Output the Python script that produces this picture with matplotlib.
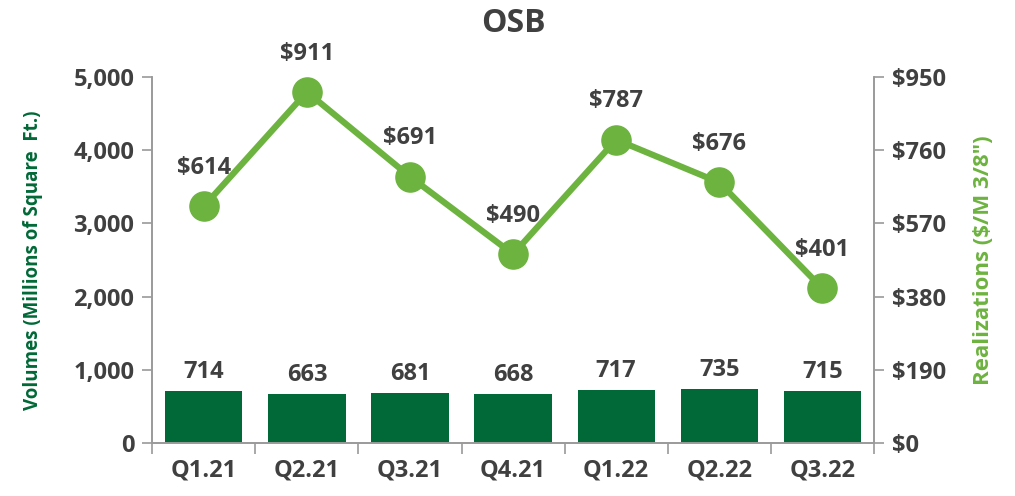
import matplotlib
matplotlib.use("Agg")
import matplotlib.pyplot as plt
from matplotlib.ticker import FuncFormatter

categories = ["Q1.21", "Q2.21", "Q3.21", "Q4.21", "Q1.22", "Q2.22", "Q3.22"]
volumes = [714, 663, 681, 668, 717, 735, 715]
realizations = [614, 911, 691, 490, 787, 676, 401]
left_ticks = [0, 1000, 2000, 3000, 4000, 5000]
right_ticks = [0, 190, 380, 570, 760, 950]

DARK = "#006937"
LIGHT = "#6DB33F"
TXT = "#404040"
AX = "#9A9A9A"
FS = 17

plt.rcParams['font.family'] = ['Open Sans', 'DejaVu Sans']
plt.rcParams['font.weight'] = 'bold'

fig = plt.figure(figsize=(10.15, 4.96), dpi=100)
ax = fig.add_axes([0.150, 0.107, 0.711, 0.738])
ax2 = ax.twinx()

x = list(range(len(categories)))
ax.bar(x, volumes, width=0.75, color=DARK, zorder=2)
for xi, v in zip(x, volumes):
    ax.annotate(f"{v:,}", (xi, v), xytext=(0, 5), textcoords="offset points",
                ha="center", va="bottom", fontsize=FS, fontweight="bold", color=TXT)

ax.set_xlim(-0.5, len(categories) - 0.5)
ax.set_ylim(0, 5000)
ax.set_yticks(left_ticks)
ax.yaxis.set_major_formatter(FuncFormatter(lambda v, p: f"{int(v):,}"))
ax.set_xticks(x)
ax.set_xticklabels(categories)
ax.set_xticks([i - 0.5 for i in range(len(categories) + 1)], minor=True)
ax.tick_params(axis="x", which="major", length=0, pad=11, labelsize=FS, labelcolor=TXT)
ax.tick_params(axis="x", which="minor", length=8, color=AX, width=1.2)
ax.tick_params(axis="y", length=7, color=AX, width=1.2, labelsize=FS, labelcolor=TXT, pad=6)
for lbl in ax.get_xticklabels() + ax.get_yticklabels():
    lbl.set_fontweight("bold")

ax2.plot(x, realizations, color=LIGHT, lw=4.5, marker="o", markersize=21, zorder=3)
for xi, v in zip(x, realizations):
    ax2.annotate(f"${v:,}", (xi, v), xytext=(0, 19), textcoords="offset points",
                 ha="center", va="bottom", fontsize=FS, fontweight="bold", color=TXT)
ax2.set_ylim(0, 950)
ax2.set_yticks(right_ticks)
ax2.yaxis.set_major_formatter(FuncFormatter(lambda v, p: f"${int(v):,}"))
ax2.tick_params(axis="y", length=7, color=AX, width=1.2, labelsize=FS, labelcolor=TXT, pad=6)
for lbl in ax2.get_yticklabels():
    lbl.set_fontweight("bold")

for a in (ax, ax2):
    a.spines["top"].set_visible(False)
    for s in ("left", "right", "bottom"):
        a.spines[s].set_color(AX)
        a.spines[s].set_linewidth(1.2)

ax.set_ylabel("Volumes (Millions of Square  Ft.)", color=DARK, fontsize=13.5,
              fontweight="bold")
ax.yaxis.set_label_coords(-0.151, 0.5)
ax2.set_ylabel('Realizations ($/M 3/8")', color=LIGHT, fontsize=16,
               fontweight="bold")
ax2.yaxis.set_label_coords(1.137, 0.5)
fig.suptitle("OSB", x=0.506, y=0.985, fontsize=23, fontweight="bold", color=TXT)

fig.savefig("out.png", dpi=100)
